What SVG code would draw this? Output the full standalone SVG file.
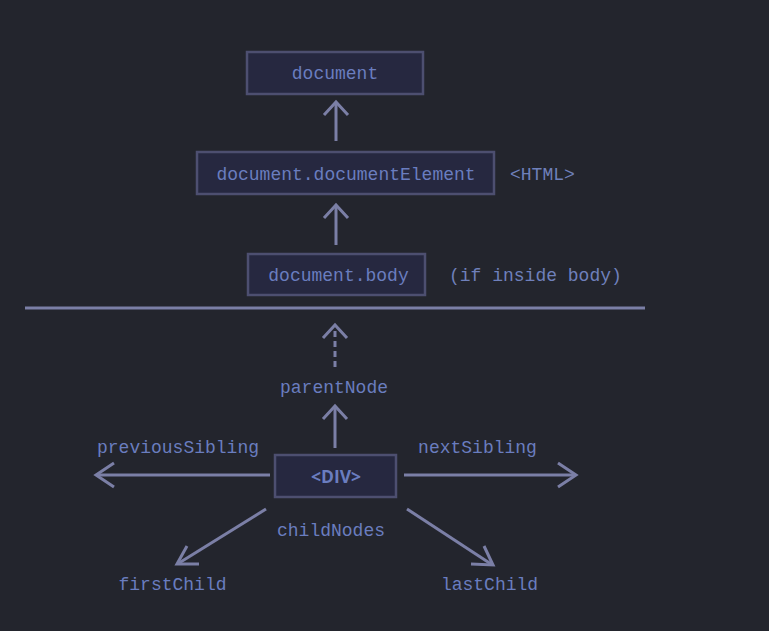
<svg xmlns="http://www.w3.org/2000/svg" width="769" height="631" viewBox="0 0 769 631">
<style>
.bg{fill:#23252d}
.box{fill:#262840;stroke:#4d4f70;stroke-width:2.5}
.t{font-family:"Liberation Mono","DejaVu Sans Mono",monospace;font-size:18px;fill:#6a7dbf}
.n{font-family:"Liberation Mono","DejaVu Sans Mono",monospace;font-size:18px;fill:#6f80bb}
.b{font-family:"Open Sans","Liberation Sans",sans-serif;font-size:17.5px;font-weight:bold;fill:#6a7dbf}
.c{stroke:#7b7fa6;stroke-width:3;fill:none}
</style>
<rect class="bg" x="0" y="0" width="769" height="631"/>
<g id="node-document">
<rect class="box" x="247" y="52" width="176" height="42"/>
<text class="t" x="335" y="79" text-anchor="middle">document</text>
</g>
<g id="node-documentElement">
<rect class="box" x="197" y="152" width="297" height="42"/>
<text class="t" x="346" y="180" text-anchor="middle">document.documentElement</text>
<text class="n" x="510" y="180">&lt;HTML&gt;</text>
</g>
<g id="node-body">
<rect class="box" x="248" y="254" width="177" height="41"/>
<text class="t" x="338.5" y="281" text-anchor="middle">document.body</text>
<text class="n" x="449" y="281">(if inside body)</text>
</g>
<g id="node-div">
<rect class="box" x="275" y="455" width="121" height="42"/>
<text class="b" x="336" y="483" text-anchor="middle">&lt;DIV&gt;</text>
</g>
<g id="labels">
<text class="t" x="334" y="393" text-anchor="middle">parentNode</text>
<text class="t" x="178" y="453" text-anchor="middle">previousSibling</text>
<text class="t" x="477.5" y="453" text-anchor="middle">nextSibling</text>
<text class="t" x="331" y="536" text-anchor="middle">childNodes</text>
<text class="t" x="172.5" y="590" text-anchor="middle">firstChild</text>
<text class="t" x="489.5" y="590" text-anchor="middle">lastChild</text>
</g>
<g id="connectors">
<line class="c" x1="25" y1="308" x2="645" y2="308"/>
<line class="c" x1="336" y1="141" x2="336" y2="103"/>
<polyline class="c" points="324,115 336,102 348,115"/>
<line class="c" x1="336" y1="245" x2="336" y2="206"/>
<polyline class="c" points="324,218 336,205 348,218"/>
<line class="c" x1="335" y1="367" x2="335" y2="327" stroke-dasharray="6,4"/>
<polyline class="c" points="323,338 335,325 347,338"/>
<line class="c" x1="335" y1="448" x2="335" y2="407"/>
<polyline class="c" points="323,419 335,406 347,419"/>
<line class="c" x1="270" y1="475" x2="97" y2="475"/>
<polyline class="c" points="114,463 96,475 114,487"/>
<line class="c" x1="404" y1="475" x2="575" y2="475"/>
<polyline class="c" points="558,463 576,475 558,487"/>
<line class="c" x1="266" y1="509" x2="179" y2="563"/>
<polyline class="c" points="187,546 177,564 199,564"/>
<line class="c" x1="407" y1="509" x2="491" y2="564"/>
<polyline class="c" points="471,564 493,565 484,546"/>
</g>
</svg>
